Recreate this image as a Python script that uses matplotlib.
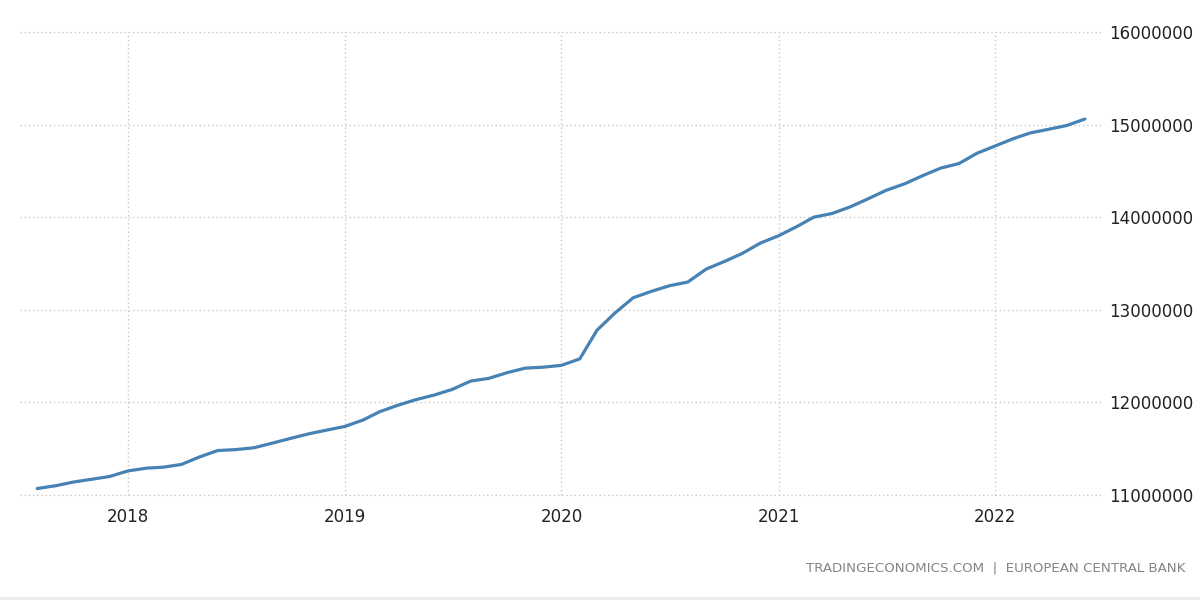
"""
Line chart of a monthly ECB series, 2017-2022, in the Trading Economics style.
"""

import matplotlib
matplotlib.use('Agg')
import matplotlib.pyplot as plt
import matplotlib.dates as mdates
import matplotlib.ticker as mticker
import numpy as np
import datetime as dt

# Monthly values (millions), Aug 2017 .. Jun 2022
startYear, startMonth = 2017, 8
valuesMillions = [
    11.07, 11.10, 11.14, 11.17, 11.20,                      # 2017 Aug-Dec
    11.26, 11.29, 11.30, 11.33, 11.41, 11.48,
    11.49, 11.51, 11.56, 11.61, 11.66, 11.70,               # 2018
    11.74, 11.81, 11.90, 11.97, 12.03, 12.08,
    12.14, 12.23, 12.26, 12.32, 12.37, 12.38,               # 2019
    12.40, 12.47, 12.78, 12.97, 13.13, 13.20,
    13.26, 13.30, 13.44, 13.52, 13.61, 13.72,               # 2020
    13.80, 13.90, 14.00, 14.04, 14.11, 14.20,
    14.29, 14.36, 14.45, 14.53, 14.58, 14.69,               # 2021
    14.77, 14.85, 14.91, 14.95, 14.99, 15.06,               # 2022 Jan-Jun
]
yearTicks = [2018, 2019, 2020, 2021, 2022]
yTicks = [11000000, 12000000, 13000000, 14000000, 15000000, 16000000]
sourceText = 'TRADINGECONOMICS.COM  |  EUROPEAN CENTRAL BANK'


def main():
    dates = []
    for i in range(len(valuesMillions)):
        m = startMonth - 1 + i
        dates.append(dt.date(startYear + m // 12, m % 12 + 1, 1))
    values = np.array(valuesMillions) * 1e6

    fig = plt.figure(figsize=(12, 6), dpi=100)
    ax = fig.add_axes([20 / 1200, 1 - 495 / 600, 1081 / 1200, 463 / 600])

    ax.plot(dates, values, color='#4682b4', linewidth=2.3,
            solid_capstyle='round', solid_joinstyle='round')

    ax.set_xlim(dt.date(2017, 7, 3), dt.date(2022, 6, 28))
    ax.set_ylim(yTicks[0], yTicks[-1])
    ax.set_xticks([dt.date(y, 1, 1) for y in yearTicks])
    ax.xaxis.set_major_formatter(mdates.DateFormatter('%Y'))
    ax.set_yticks(yTicks)
    ax.yaxis.set_major_formatter(mticker.FuncFormatter(lambda v, p: f'{int(v)}'))
    ax.yaxis.tick_right()

    ax.tick_params(axis='both', length=0, labelsize=12, labelcolor='#222222')
    ax.tick_params(axis='x', pad=9)
    ax.tick_params(axis='y', pad=6)

    ax.grid(True, linestyle=(0, (1, 2)), color='#c8c8c8', linewidth=1)
    for gl in ax.get_xgridlines() + ax.get_ygridlines():
        gl.set_clip_on(False)
    for s in ax.spines.values():
        s.set_visible(False)

    fig.text(1185 / 1200, 1 - 568 / 600, sourceText, ha='right', va='center',
             fontsize=9.6, color='#858585')
    fig.add_artist(plt.Line2D([0, 1], [0.004, 0.004], color='#eeeeee', linewidth=2))

    fig.savefig('out.png', dpi=100)


if __name__ == '__main__':
    main()
